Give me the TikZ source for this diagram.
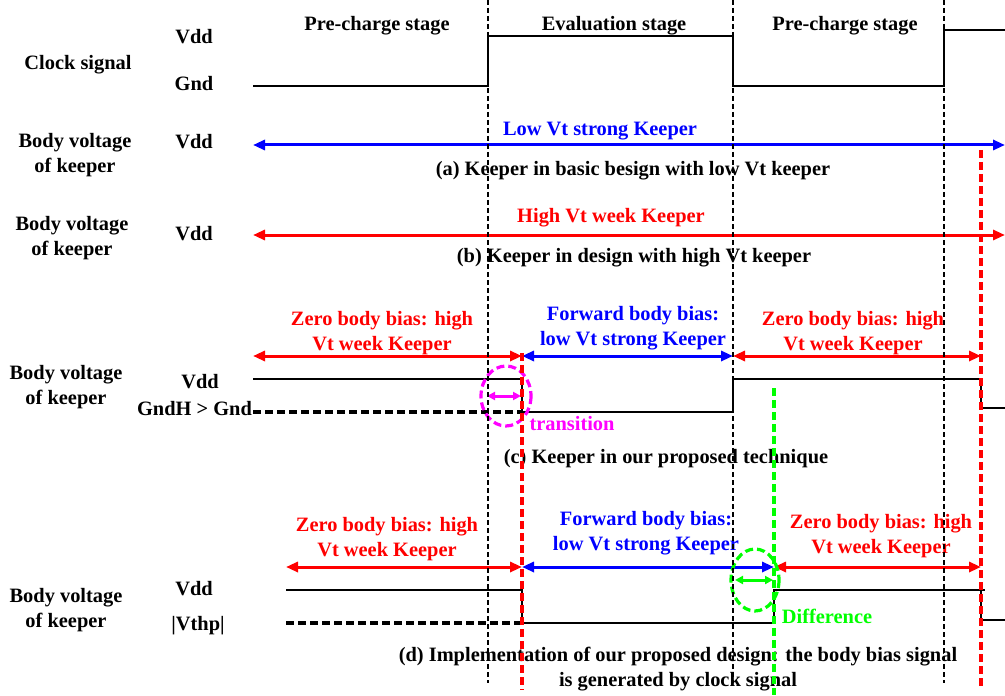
\documentclass[tikz,border=0pt]{standalone}
\usepackage{fontspec}
\setmainfont{Liberation Serif}
\usetikzlibrary{arrows.meta}
\definecolor{pinkish}{RGB}{255,0,255}
\definecolor{lime}{RGB}{0,255,0}

\begin{document}
\begin{tikzpicture}[x=0.5pt, y=-0.5pt, font=\bfseries\fontsize{10.2}{12.5}\selectfont]
    % Styles
    \tikzstyle{wave}=[line width=1.4pt]
    \tikzstyle{ref wave}=[line width=1.6pt, dash pattern=on 4pt off 2pt]
    \tikzstyle{stage line}=[line width=1.2pt, dash pattern=on 2.5pt off 1.5pt]
    \tikzstyle{edge line}=[line width=1.6pt, dash pattern=on 4pt off 2pt]
    \tikzstyle{span}=[line width=1.5pt, {Triangle[length=6pt,width=5pt]}-{Triangle[length=6pt,width=5pt]}]
    \tikzstyle{gap arrow}=[line width=1.5pt, {Triangle[length=4pt,width=4pt]}-{Triangle[length=4pt,width=4pt]}]
    \tikzstyle{halo}=[line width=1.6pt, dash pattern=on 4pt off 2pt]
    \tikzstyle{two lines}=[align=center]

    \useasboundingbox (0,0) rectangle (1005,695);

    % --- Stages and clock ---
    \node[anchor=base] (stage1) at (377,31) {Pre-charge stage};
    \node[anchor=base] (stage2) at (614,31) {Evaluation stage};
    \node[anchor=base] (stage3) at (845,31) {Pre-charge stage};

    \node[anchor=base] (clk) at (78,70) {Clock signal};
    \node[anchor=base] (clk_vdd) at (194,44) {Vdd};
    \node[anchor=base] (clk_gnd) at (194,91) {Gnd};
    \draw[wave] (253,86) -- (488,86) -- (488,36) -- (733,36) -- (733,86) -- (944,86) -- (944,30) -- (1005,30);

    % --- (a) basic design, low Vt keeper ---
    \node[two lines] (a_body) at (75,155) {Body voltage\\of keeper};
    \node[anchor=base] (a_vdd) at (194,149) {Vdd};
    \coordinate (a_0) at (253,145);
    \coordinate (a_1) at (1005,145);
    \draw[span, blue] (a_0) -- (a_1);
    \node[anchor=base, blue] (a_keeper) at (600,136) {Low Vt strong Keeper};
    \node[anchor=base] (a_caption) at (633,176) {(a) Keeper in basic besign with low Vt keeper};

    % --- (b) high Vt keeper ---
    \node[two lines] (b_body) at (72,238) {Body voltage\\of keeper};
    \node[anchor=base] (b_vdd) at (194,241) {Vdd};
    \coordinate (b_0) at (253,235);
    \coordinate (b_1) at (1005,235);
    \draw[span, red] (b_0) -- (b_1);
    \node[anchor=base, red] (b_keeper) at (611,222) {High Vt week Keeper};
    \node[anchor=base] (b_caption) at (634,262) {(b) Keeper in design with high Vt keeper};

    % --- (c) proposed technique ---
    \node[two lines] (c_body) at (66,387) {Body voltage\\of keeper};
    \node[anchor=base] (c_vdd) at (200,388) {Vdd};
    \node[anchor=base] (c_gndh) at (194.5,415) {GndH > Gnd};

    \coordinate (c_0) at (253,356);
    \coordinate (c_1) at (522,356);
    \coordinate (c_2) at (733,356);
    \coordinate (c_3) at (981,356);
    \draw[span, red] (c_0) -- (c_1);
    \draw[span, blue] (c_1) -- (c_2);
    \draw[span, red] (c_2) -- (c_3);
    \node[two lines, red] (c_zero1) at (382,333) {Zero body bias: high\\Vt week Keeper};
    \node[two lines, blue] (c_fwd) at (633,328) {Forward body bias:\\low Vt strong Keeper};
    \node[two lines, red] (c_zero2) at (853,333) {Zero body bias: high\\Vt week Keeper};

    \draw[ref wave] (253,412) -- (522,412);
    \draw[wave] (253,379) -- (522,379) -- (522,412) -- (733,412) -- (733,379) -- (981,379) -- (981,408) -- (1005,408);

    % transition window
    \draw[halo, pinkish] (506,396) ellipse [x radius=25, y radius=30];
    \coordinate (t_0) at (487,396);
    \coordinate (t_1) at (521,396);
    \draw[gap arrow, pinkish] (t_0) -- (t_1);
    \node[anchor=base, pinkish] (c_trans) at (572,430) {transition};
    \node[anchor=base] (c_caption) at (666,463) {(c) Keeper in our proposed technique};

    % --- (d) implementation ---
    \node[two lines] (d_body) at (66,610) {Body voltage\\of keeper};
    \node[anchor=base] (d_vdd) at (194,595) {Vdd};
    \node[anchor=base] (d_vthp) at (198,630) {|Vthp|};

    \coordinate (d_0) at (286,567);
    \coordinate (d_1) at (522,567);
    \coordinate (d_2) at (774,567);
    \coordinate (d_3) at (981,567);
    \draw[span, red] (d_0) -- (d_1);
    \draw[span, blue] (d_1) -- (d_2);
    \draw[span, red] (d_2) -- (d_3);
    \node[two lines, red] (d_zero1) at (387,539) {Zero body bias: high\\Vt week Keeper};
    \node[two lines, blue] (d_fwd) at (646,533) {Forward body bias:\\low Vt strong Keeper};
    \node[two lines, red] (d_zero2) at (881,536) {Zero body bias: high\\Vt week Keeper};

    \draw[ref wave] (286,623) -- (522,623);
    \draw[wave] (286,590) -- (522,590) -- (522,623) -- (774,623) -- (774,590) -- (985,590);
    \draw[wave] (981,590) -- (981,620) -- (1005,620);

    % difference window
    \draw[halo, lime] (755,580) ellipse [x radius=24, y radius=31];
    \coordinate (g_0) at (735,580);
    \coordinate (g_1) at (773,580);
    \draw[gap arrow, lime] (g_0) -- (g_1);
    \node[anchor=base, lime] (d_diff) at (827,623) {Difference};
    \node[two lines] (d_caption) at (678,669) {(d) Implementation of our proposed design: the body bias signal\\is generated by clock signal};

    % --- Vertical guides ---
    \foreach \x in {488,733,944}
        \draw[stage line] (\x,0) -- (\x,683);
    \draw[edge line, red] (981,150) -- (981,686);
    \draw[edge line, red] (522,353) -- (522,690);
    \draw[edge line, lime] (774,388) -- (774,695);

\end{tikzpicture}
\end{document}
